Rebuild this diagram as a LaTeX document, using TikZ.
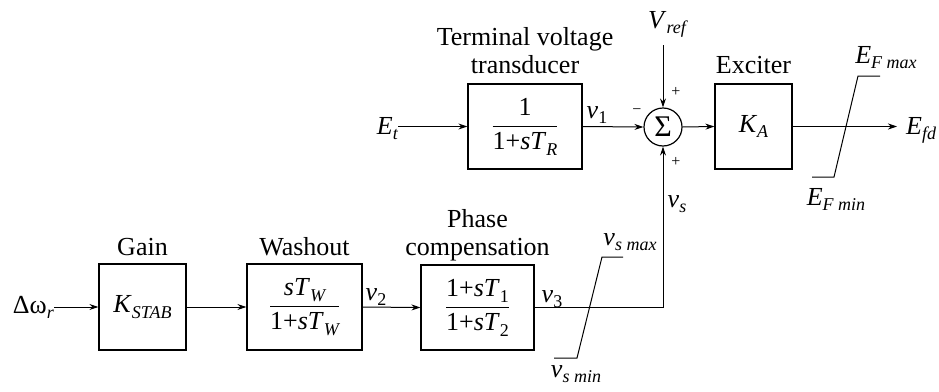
\documentclass[tikz,border=0pt]{standalone}
\usepackage{fontspec}
\newfontfamily\tms{Liberation Serif}
\usetikzlibrary{arrows.meta}
\newcommand\sbs[1]{\raisebox{-0.5ex}{\fontsize{18}{18}\selectfont\itshape #1}}
\newcommand\sbu[1]{\raisebox{-0.5ex}{\fontsize{18}{18}\selectfont #1}}
\newcommand\frc[2]{$\displaystyle\frac{\hbox{#1}}{\hbox{#2}}$}
\begin{document}
\begin{tikzpicture}[x=1pt,y=-1pt,
  font=\tms\fontsize{26}{30}\selectfont,
  blk/.style={draw, line width=1.2pt, inner sep=0pt},
  lab/.style={inner sep=0pt},
  sgn/.style={inner sep=0pt, font=\tms\fontsize{16}{16}\selectfont},
  conn/.style={line width=1pt, -{Stealth[length=9pt,width=6pt]}},
  ln/.style={line width=1pt}]
\useasboundingbox (0,0) rectangle (939,391);
% top row
\node[blk, minimum width=114, minimum height=85] (tr) at (525,126.5) {\frc{1}{1+\textit{sT}\sbs{R}}};
\node[blk, circle, minimum size=38] (sum) at (663,127) {\fontsize{30}{30}\selectfont Σ};
\node[blk, minimum width=77, minimum height=85] (ex) at (753.5,126.5) {\textit{K}\sbs{A}};
\node[lab, anchor=base] (trl1) at (525,45) {Terminal voltage};
\node[lab, anchor=base] (trl2) at (525,73) {transducer};
\node[lab, anchor=base] (exl) at (753.5,73) {Exciter};
\node[lab, anchor=base east] (Et) at (398,134) {\textit{E}\sbs{t}};
\node[lab, anchor=base] (Vref) at (667,28) {\textit{V}\sbs{ref}};
\coordinate (vin) at (663,45);
\node[lab, anchor=base west, inner xsep=9pt] (Efd) at (897,134) {\textit{E}\sbs{fd}};
\node[lab, anchor=base] (v1) at (597,118) {\textit{v}\sbu{1}};
\node[sgn] (sm) at (637,112) {−};
\node[sgn] (sp1) at (676,92) {+};
\node[sgn] (sp2) at (676,162) {+};
\node[lab, anchor=base] (efmax) at (886,63) {\textit{E}\sbs{F max}};
\node[lab, anchor=base] (efmin) at (836,205) {\textit{E}\sbs{F min}};
\draw[conn] (Et.east |- tr.west) -- (tr.west);
\draw[conn] (tr.east) -- (sum.west);
\draw[conn] (vin) -- (sum.north);
\draw[conn] (sum.east) -- (ex.west);
\draw[conn] (ex.east) -- (Efd.west |- ex.east);
\draw[ln] (812,177) -- (834,177) -- (858,76) -- (880,76);
% bottom row
\node[blk, minimum width=87, minimum height=86] (gain) at (142.5,307) {\textit{K}\sbs{STAB}};
\node[blk, minimum width=115, minimum height=86] (wash) at (304.5,307) {\frc{\textit{sT}\sbs{W}}{1+\textit{sT}\sbs{W}}};
\node[blk, minimum width=113, minimum height=85] (ph) at (477.5,307.5) {\frc{1+\textit{sT}\sbu{1}}{1+\textit{sT}\sbu{2}}};
\node[lab, anchor=base] (gl) at (142.5,255) {Gain};
\node[lab, anchor=base] (wl) at (304.5,255) {Washout};
\node[lab, anchor=base] (pl1) at (477.5,227) {Phase};
\node[lab, anchor=base] (pl2) at (477.5,255) {compensation};
\node[lab, anchor=base east] (dw) at (54,313) {Δω\sbs{r}};
\node[lab, anchor=base] (v2) at (376,300) {\textit{v}\sbu{2}};
\node[lab, anchor=base] (v3) at (552,302) {\textit{v}\sbu{3}};
\node[lab, anchor=base] (vs) at (677,207) {\textit{v}\sbs{s}};
\node[lab, anchor=base] (vsmax) at (630,245) {\textit{v}\sbs{s max}};
\node[lab, anchor=base] (vsmin) at (576,377) {\textit{v}\sbs{s min}};
\draw[conn] (dw.east |- gain.west) -- (gain.west);
\draw[conn] (gain.east) -- (wash.west);
\draw[conn] (wash.east) -- (ph.west);
\draw[conn] (ph.east) -- (ph.east -| sum.south) -- (sum.south);
\draw[ln] (554,358) -- (577,358) -- (602,257) -- (623,257);
\end{tikzpicture}
\end{document}
